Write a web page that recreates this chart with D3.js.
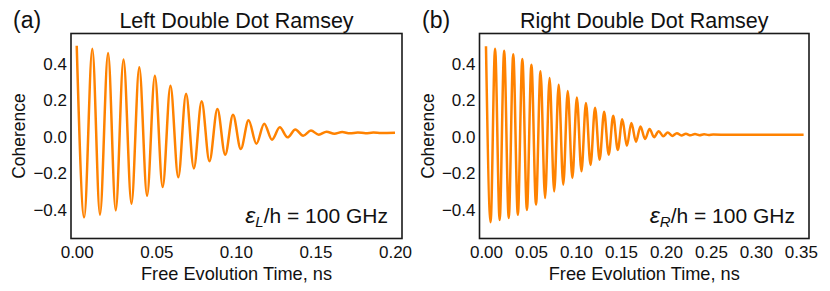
<!DOCTYPE html>
<html><head><meta charset="utf-8">
<script src="https://cdn.jsdelivr.net/npm/d3@7"></script>
<style>
body{margin:0;background:#fff;}
text{font-family:"Liberation Sans",Arial,Helvetica,sans-serif;fill:#111;}
</style></head>
<body><svg id="chart" width="830" height="291"></svg>
<script>
// Extrema of the left double-dot Ramsey signal (time in ns, coherence)
const timeLeft = [0.0000,0.0047,0.0098,0.0146,0.0197,0.0245,0.0294,0.0344,0.0393,0.0442,
  0.0491,0.0540,0.0589,0.0638,0.0687,0.0736,0.0785,0.0834,0.0884,0.0933,
  0.0982,0.1031,0.1080,0.1129,0.1178,0.1227,0.1276,0.1325,0.1374,0.1423,
  0.1472,0.1521,0.1570,0.1619,0.1668,0.1717,0.1766,0.1815,0.1864,0.1913,0.2000];
const coherenceLeft = [0.500,-0.440,0.484,-0.426,0.460,-0.402,0.424,-0.365,0.382,-0.322,
  0.336,-0.274,0.281,-0.221,0.237,-0.172,0.196,-0.133,0.153,-0.097,
  0.122,-0.066,0.092,-0.037,0.073,-0.015,0.053,-0.002,0.041,0.007,
  0.035,0.013,0.029,0.018,0.027,0.020,0.025,0.021,0.024,0.022,0.023];

// Extrema of the right double-dot Ramsey signal
const timeRight = [0.0000,0.0051,0.0101,0.0152,0.0202,0.0253,0.0303,0.0354,0.0404,0.0455,
  0.0505,0.0556,0.0606,0.0657,0.0707,0.0758,0.0808,0.0859,0.0909,0.0960,
  0.1010,0.1061,0.1111,0.1162,0.1212,0.1263,0.1313,0.1364,0.1414,0.1465,
  0.1515,0.1566,0.1616,0.1667,0.1717,0.1768,0.1818,0.1869,0.1919,0.1970,
  0.2020,0.2071,0.2121,0.2172,0.2222,0.2273,0.2323,0.2374,0.2424,0.2475,
  0.2525,0.2700,0.3000,0.3530];
const coherenceRight = [0.497,-0.467,0.484,-0.455,0.472,-0.444,0.453,-0.426,0.427,-0.400,
  0.396,-0.370,0.360,-0.334,0.323,-0.298,0.286,-0.261,0.252,-0.225,
  0.216,-0.188,0.186,-0.153,0.160,-0.124,0.138,-0.097,0.116,-0.071,
  0.097,-0.048,0.077,-0.026,0.058,-0.011,0.044,-0.001,0.032,0.004,
  0.025,0.006,0.021,0.008,0.018,0.009,0.016,0.010,0.015,0.011,
  0.014,0.012,0.012,0.012];

const xTicksLeft = [0, 0.05, 0.10, 0.15, 0.20];
const xTicksRight = [0, 0.05, 0.10, 0.15, 0.20, 0.25, 0.30, 0.35];
const yTicks = [-0.4, -0.2, 0.0, 0.2, 0.4];

const panels = [
  {label:"(a)", title:"Left Double Dot Ramsey", sub:"L", t:timeLeft, c:coherenceLeft,
   xTicks:xTicksLeft, xDomain:[-0.0036, 0.2044], left:71, right:402, labelX:13},
  {label:"(b)", title:"Right Double Dot Ramsey", sub:"R", t:timeRight, c:coherenceRight,
   xTicks:xTicksRight, xDomain:[-0.0072, 0.3590], left:479.5, right:809, labelX:422}
];
const plotTop = 33.5, plotBottom = 238.5;
const svg = d3.select("#chart");
const color = "#ff8200";

panels.forEach(p => {
  const x = d3.scaleLinear().domain(p.xDomain).range([p.left, p.right]);
  const y = d3.scaleLinear().domain([-0.556, 0.567]).range([plotBottom, plotTop]);
  const g = svg.append("g");
  const data = p.t.map((t,i)=>[t, p.c[i]]);

  g.append("clipPath").attr("id","clip"+p.sub).append("rect")
    .attr("x",p.left).attr("y",plotTop).attr("width",p.right-p.left).attr("height",plotBottom-plotTop);

  g.append("path").datum(data)
    .attr("clip-path","url(#clip"+p.sub+")")
    .attr("fill","none").attr("stroke",color).attr("stroke-width",2.5)
    .attr("stroke-linejoin","round")
    .attr("d", d3.line().x(d=>x(d[0])).y(d=>y(d[1])).curve(d3.curveMonotoneX));

  g.append("rect").attr("x",p.left).attr("y",plotTop)
    .attr("width",p.right-p.left).attr("height",plotBottom-plotTop)
    .attr("fill","none").attr("stroke","#1a1a1a").attr("stroke-width",1.6);

  const xa = g.append("g").attr("transform",`translate(0,${plotBottom})`)
    .call(d3.axisBottom(x).tickValues(p.xTicks).tickSize(0).tickPadding(7).tickFormat(d3.format(".2f")));
  xa.select(".domain").remove();
  xa.selectAll("text").style("font-size","17px").style("font-family","Liberation Sans, Arial, sans-serif").attr("fill","#111");

  const ya = g.append("g").attr("transform",`translate(${p.left},0)`)
    .call(d3.axisLeft(y).tickValues(yTicks).tickSize(0).tickPadding(4).tickFormat(d3.format(".1f")));
  ya.select(".domain").remove();
  ya.selectAll("text").style("font-size","17px").style("font-family","Liberation Sans, Arial, sans-serif").attr("fill","#111");

  const cx = (p.left+p.right)/2;
  g.append("text").attr("x",cx).attr("y",280).attr("text-anchor","middle")
    .style("font-size","18.2px").text("Free Evolution Time, ns");
  g.append("text").attr("transform",`translate(${p.left-46},${(plotTop+plotBottom)/2}) rotate(-90)`)
    .attr("text-anchor","middle").style("font-size","17.5px").text("Coherence");
  g.append("text").attr("x",cx).attr("y",27.5).attr("text-anchor","middle")
    .style("font-size","21.5px").text(p.title);
  g.append("text").attr("x",p.labelX).attr("y",27.5)
    .style("font-size","23px").text(p.label);

  const ann = g.append("text").attr("x",p.right-14).attr("y",223).attr("text-anchor","end")
    .style("font-size","21px");
  ann.append("tspan").style("font-style","italic").style("font-size","23px").text("ε");
  ann.append("tspan").style("font-style","italic").style("font-size","15px").attr("dy",4).text(p.sub);
  ann.append("tspan").attr("dy",-4).text("/h = 100 GHz");
});
</script></body></html>
